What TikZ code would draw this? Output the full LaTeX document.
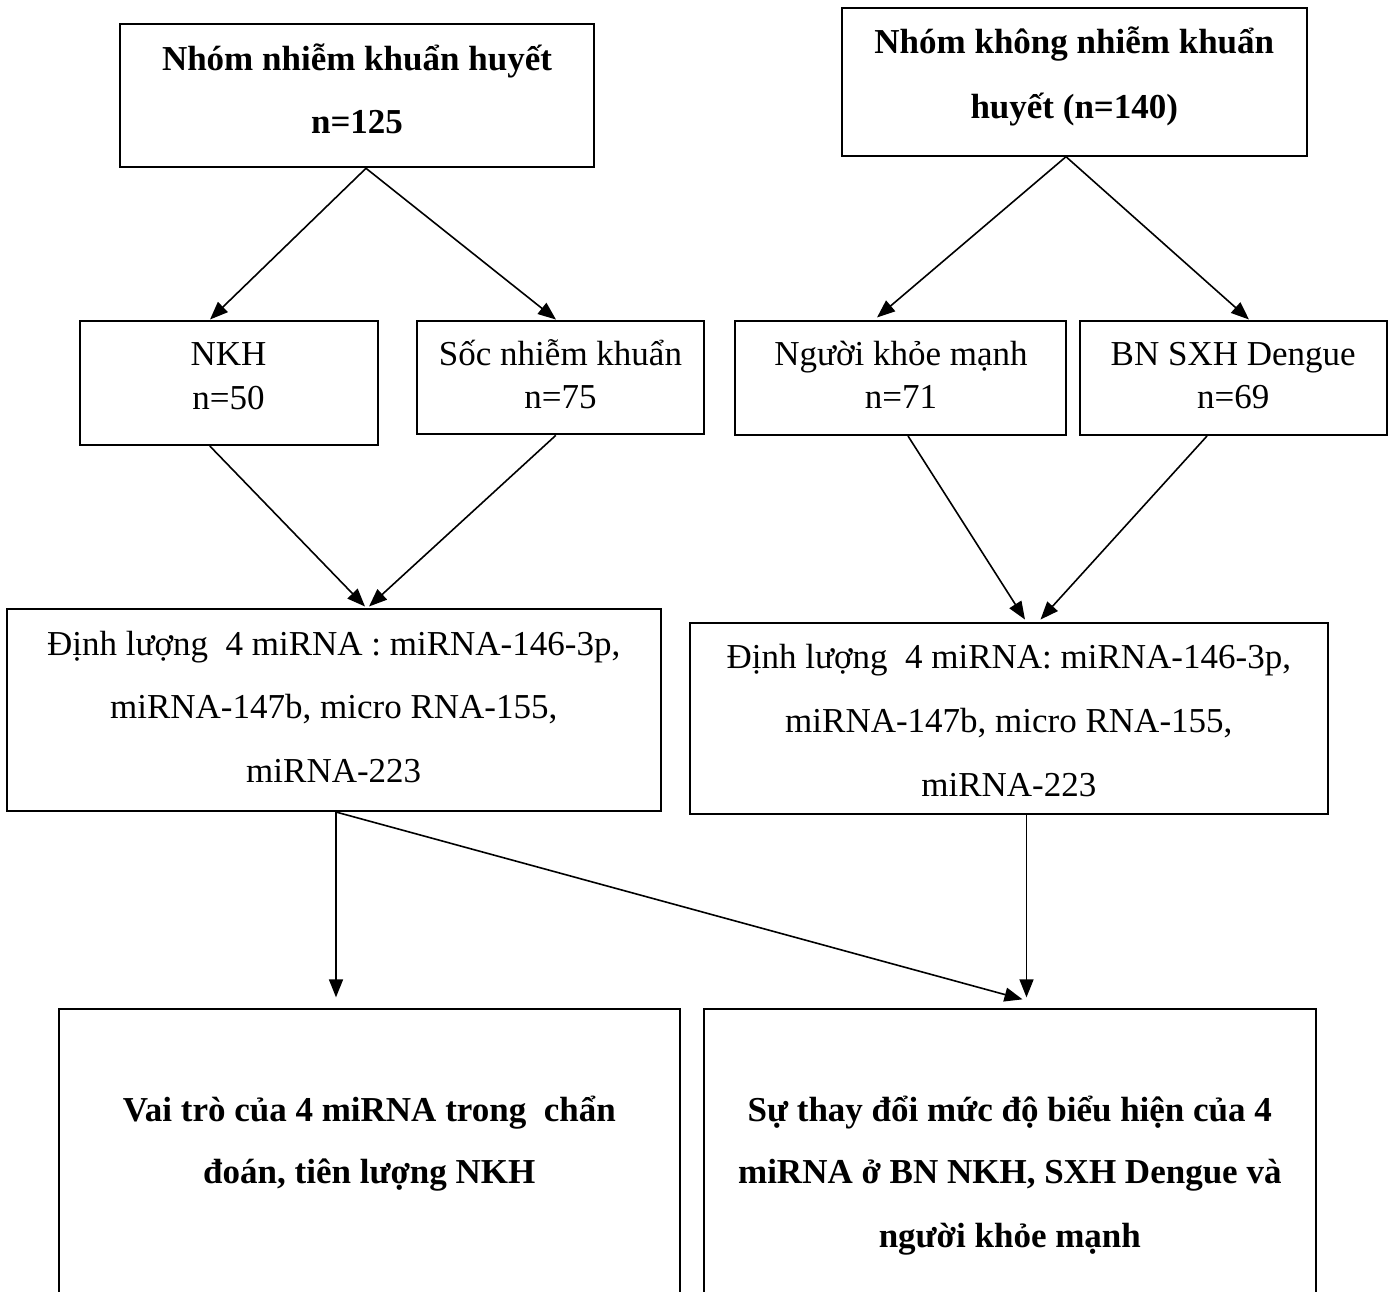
\documentclass[tikz,border=0pt]{standalone}
\usepackage{fontspec}
\setmainfont{Liberation Serif}
\usetikzlibrary{arrows.meta}
\begin{document}
\begin{tikzpicture}[x=1pt,y=-1pt,
  box/.style={draw=black,line width=2pt,inner sep=0pt,rectangle},
  txt/.style={inner sep=0pt,anchor=base,font=\fontsize{35}{40}\selectfont},
  btxt/.style={txt,font=\fontsize{35}{40}\selectfont\bfseries},
  conn/.style={draw=black,line width=1.6pt,-{Triangle[length=18pt,width=14pt]}}]
\useasboundingbox (0,0) rectangle (1394,1291);
\fill[white] (0,0) rectangle (1394,1291);
\clip (0,0) rectangle (1394,1291);
% boxes
\node[box,minimum width=474.2pt,minimum height=143pt] (A) at (356.7,95.8) {};
\node[box,minimum width=465.4pt,minimum height=147.4pt] (B) at (1074.3,82) {};
\node[box,minimum width=298.2pt,minimum height=124pt] (C) at (228.6,383) {};
\node[box,minimum width=286.1pt,minimum height=113.3pt] (D) at (560.5,377.7) {};
\node[box,minimum width=331pt,minimum height=114pt] (E) at (900.9,378) {};
\node[box,minimum width=307.1pt,minimum height=114pt] (F) at (1233.2,378) {};
\node[box,minimum width=654pt,minimum height=202pt] (G) at (333.7,710) {};
\node[box,minimum width=637.5pt,minimum height=191.5pt] (H) at (1008.8,718.3) {};
\node[box,minimum width=621.3pt,minimum height=330.7pt] (I) at (369.3,1174.7) {};
\node[box,minimum width=611.6pt,minimum height=330.7pt] (J) at (1009.8,1174.7) {};
% texts
\node[btxt] (A1) at (357,70) {Nhóm nhiễm khuẩn huyết};
\node[btxt] (A2) at (357,133) {n=125};
\node[btxt] (B1) at (1074.3,53.5) {Nhóm không nhiễm khuẩn};
\node[btxt] (B2) at (1074.3,118.5) {huyết (n=140)};
\node[txt] (C1) at (228.6,365.7) {NKH};
\node[txt] (C2) at (228.6,409) {n=50};
\node[txt] (D1) at (560.5,365.7) {Sốc nhiễm khuẩn};
\node[txt] (D2) at (560.5,408.5) {n=75};
\node[txt] (E1) at (900.9,365.7) {Người khỏe mạnh};
\node[txt] (E2) at (900.9,408.5) {n=71};
\node[txt] (F1) at (1233.2,365.7) {BN SXH Dengue};
\node[txt] (F2) at (1233.2,408.5) {n=69};
\node[txt] (G1) at (333.7,655) {Định lượng~~4 miRNA : miRNA-146-3p,};
\node[txt] (G2) at (333.7,718) {miRNA-147b, micro RNA-155,};
\node[txt] (G3) at (333.7,782.5) {miRNA-223};
\node[txt] (H1) at (1008.8,668) {Định lượng~~4 miRNA: miRNA-146-3p,};
\node[txt] (H2) at (1008.8,732) {miRNA-147b, micro RNA-155,};
\node[txt] (H3) at (1008.8,796.7) {miRNA-223};
\node[btxt] (I1) at (369.3,1121.5) {Vai trò của 4 miRNA trong~~chẩn};
\node[btxt] (I2) at (369.3,1183) {đoán, tiên lượng NKH};
\node[btxt] (J1) at (1009.8,1121.5) {Sự thay đổi mức độ biểu hiện của 4};
\node[btxt] (J2) at (1009.8,1183) {miRNA ở BN NKH, SXH Dengue và};
\node[btxt] (J3) at (1009.8,1247) {người khỏe mạnh};
% connectors
\draw[conn] ([xshift=9.3pt]A.south) -- ([xshift=-18.6pt,yshift=0.5pt]C.north);
\draw[conn] ([xshift=9.3pt]A.south) -- ([xshift=-4.5pt,yshift=0.5pt]D.north);
\draw[conn] ([xshift=-8.3pt]B.south) -- ([xshift=-23.9pt,yshift=2.5pt]E.north);
\draw[conn] ([xshift=-8.3pt]B.south) -- ([xshift=15.8pt,yshift=0.5pt]F.north);
\draw[conn] ([xshift=-18.8pt]C.south) -- ([xshift=31.3pt,yshift=1.5pt]G.north);
\draw[conn] ([xshift=-4.7pt]D.south) -- ([xshift=35.3pt,yshift=1.5pt]G.north);
\draw[conn] ([xshift=7.1pt]E.south) -- ([xshift=16.2pt,yshift=2pt]H.north);
\draw[conn] ([xshift=-26.2pt]F.south) -- ([xshift=31.7pt,yshift=2pt]H.north);
\draw[conn] ([xshift=2.3pt]G.south) -- ([xshift=-33.3pt,yshift=11pt]I.north);
\draw[conn] ([xshift=2.3pt]G.south) -- ([xshift=12.7pt,yshift=9pt]J.north);
\draw[conn] ([xshift=17.7pt]H.south) -- ([xshift=16.7pt,yshift=11pt]J.north);
\end{tikzpicture}
\end{document}
